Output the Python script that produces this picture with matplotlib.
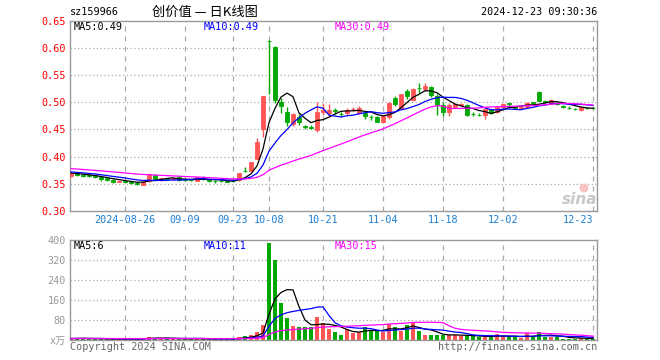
import numpy as np
import matplotlib
matplotlib.use("Agg")
import matplotlib.pyplot as plt
from matplotlib.patches import Ellipse

# ---------------- data ----------------
dates = ["08-13","08-14","08-15","08-16","08-19","08-20","08-21","08-22","08-23",
         "08-26","08-27","08-28","08-29","08-30",
         "09-02","09-03","09-04","09-05","09-06",
         "09-09","09-10","09-11","09-12","09-13",
         "09-18","09-19","09-20",
         "09-23","09-24","09-25","09-26","09-27","09-30",
         "10-08","10-09","10-10","10-11",
         "10-14","10-15","10-16","10-17","10-18",
         "10-21","10-22","10-23","10-24","10-25",
         "10-28","10-29","10-30","10-31","11-01",
         "11-04","11-05","11-06","11-07","11-08",
         "11-11","11-12","11-13","11-14","11-15",
         "11-18","11-19","11-20","11-21","11-22",
         "11-25","11-26","11-27","11-28","11-29",
         "12-02","12-03","12-04","12-05","12-06",
         "12-09","12-10","12-11","12-12","12-13",
         "12-16","12-17","12-18","12-19","12-20",
         "12-23"]

opens = [0.364,0.369,0.367,0.366,0.365,0.363,0.360,0.357,0.354,
         0.355,0.354,0.352,0.348,0.355,
         0.366,0.357,0.360,0.358,0.363,
         0.358,0.358,0.356,0.359,0.357,
         0.356,0.356,0.356,
         0.355,0.357,0.374,0.373,0.396,0.451,
         0.613,0.602,0.501,0.483,
         0.460,0.473,0.456,0.454,0.449,
         0.483,0.481,0.485,0.479,0.480,
         0.487,0.481,0.481,0.473,0.472,
         0.464,0.472,0.508,0.489,0.521,
         0.504,0.527,0.524,0.528,0.511,
         0.495,0.483,0.491,0.495,0.495,
         0.479,0.477,0.476,0.487,0.483,
         0.491,0.498,0.491,0.490,0.492,
         0.500,0.518,0.502,0.499,0.499,
         0.493,0.490,0.488,0.486,0.490,
         0.490]
highs = [0.371,0.370,0.369,0.368,0.366,0.364,0.361,0.358,0.357,
         0.356,0.355,0.353,0.355,0.369,
         0.367,0.361,0.361,0.361,0.364,
         0.359,0.359,0.363,0.364,0.358,
         0.357,0.357,0.357,
         0.356,0.370,0.381,0.391,0.434,0.511,
         0.614,0.604,0.507,0.492,
         0.480,0.478,0.458,0.458,0.501,
         0.498,0.497,0.490,0.483,0.489,
         0.491,0.493,0.484,0.477,0.474,
         0.477,0.500,0.511,0.516,0.524,
         0.526,0.535,0.535,0.529,0.516,
         0.500,0.498,0.499,0.499,0.496,
         0.483,0.480,0.489,0.488,0.494,
         0.498,0.498,0.493,0.494,0.501,
         0.501,0.520,0.504,0.506,0.500,
         0.495,0.493,0.490,0.492,0.491,
         0.491]
lows = [0.362,0.364,0.362,0.362,0.361,0.356,0.355,0.352,0.353,
        0.352,0.350,0.348,0.347,0.354,
        0.357,0.356,0.357,0.357,0.356,
        0.355,0.355,0.355,0.357,0.353,
        0.352,0.353,0.353,
        0.353,0.356,0.372,0.372,0.395,0.437,
        0.516,0.499,0.481,0.457,
        0.457,0.459,0.451,0.451,0.446,
        0.477,0.475,0.478,0.475,0.477,
        0.484,0.479,0.469,0.467,0.463,
        0.461,0.470,0.494,0.488,0.506,
        0.503,0.517,0.520,0.510,0.476,
        0.475,0.475,0.489,0.493,0.474,
        0.475,0.474,0.469,0.479,0.480,
        0.489,0.493,0.487,0.488,0.489,
        0.497,0.502,0.498,0.497,0.495,
        0.490,0.487,0.485,0.484,0.487,
        0.488]
closes = [0.369,0.366,0.365,0.364,0.363,0.359,0.357,0.354,0.356,
          0.354,0.351,0.350,0.354,0.368,
          0.358,0.360,0.359,0.360,0.357,
          0.357,0.357,0.362,0.358,0.356,
          0.355,0.355,0.354,
          0.355,0.369,0.3735,0.390,0.427,0.511,
          0.612,0.504,0.494,0.463,
          0.478,0.463,0.455,0.453,0.483,
          0.486,0.486,0.484,0.478,0.486,
          0.488,0.489,0.475,0.472,0.464,
          0.475,0.499,0.497,0.515,0.511,
          0.524,0.526,0.530,0.513,0.495,
          0.483,0.495,0.497,0.497,0.476,
          0.478,0.476,0.487,0.480,0.491,
          0.497,0.497,0.490,0.491,0.499,
          0.499,0.503,0.501,0.504,0.497,
          0.492,0.489,0.487,0.491,0.489,
          0.489]
# closes before the first drawn day (used only for the moving averages)
prior_closes = [0.390,0.389,0.388,0.387,0.386,0.385,0.385,0.384,0.382,0.382,
                0.380,0.379,0.378,0.377,0.376,0.376,0.375,0.374,0.373,0.373,
                0.375,0.374,0.374,0.373,0.374,0.371,0.370,0.370,0.369]

volumes = [5,9,8,4,4,5,4,5,3,
           4,4,4,8,13,
           8,6,4,5,7,
           5,4,5,6,4,
           5,4,5,
           5,11,16,20,33,60,
           389,320,149,89,
           56,53,53,53,93,
           69,45,33,20,43,
           29,33,53,36,36,
           33,64,53,36,60,
           67,35,20,20,20,
           22,20,20,16,16,
           16,13,13,13,24,
           13,13,13,7,27,
           13,32,13,13,13,
           6,6,6,9,6,
           3]
prior_volumes = [6,7,6,5,6,7,6,5,6,6,
                 7,6,5,6,6,7,6,5,6,6,
                 6,7,6,5,6,7,6,5,6]

price_ticks = [0.30,0.35,0.40,0.45,0.50,0.55,0.60,0.65]
vol_ticks = [0,80,160,240,320,400]
date_tick_labels = {"08-26":"2024-08-26","09-09":"09-09","09-23":"09-23","10-08":"10-08",
                    "10-21":"10-21","11-04":"11-04","11-18":"11-18","12-02":"12-02","12-23":"12-23"}

# ---------------- helpers ----------------
def ma(values, prior, n):
    full = np.array(list(prior) + list(values), dtype=float)
    out = np.convolve(full, np.ones(n) / n, mode="valid")
    return out[-len(values):]

o = np.array(opens); h = np.array(highs); l = np.array(lows); c = np.array(closes)
v = np.array(volumes, dtype=float)
x = np.arange(len(dates))
ma5 = ma(closes, prior_closes, 5); ma10 = ma(closes, prior_closes, 10); ma30 = ma(closes, prior_closes, 30)
vma5 = ma(volumes, prior_volumes, 5); vma10 = ma(volumes, prior_volumes, 10); vma30 = ma(volumes, prior_volumes, 30)

RED = "#ff5555"; GREEN = "#00a800"; GRID = "#aaaaaa"; SPINE = "#999999"
up = c > o
colors = np.where(up, RED, GREEN)

W, H = 660, 360
fig = plt.figure(figsize=(6.6, 3.6), dpi=100)
fig.patch.set_facecolor("white")

def fx(px): return px / W
def fy(py): return 1 - py / H

ax = fig.add_axes([fx(70), fy(211), fx(597) - fx(70), fy(20.7) - fy(211)])
axv = fig.add_axes([fx(70), fy(340), fx(597) - fx(70), fy(240) - fy(340)])

mono = ["DejaVu Sans Mono", "Noto Sans CJK SC"]
FS = 7.3
xlim = (-0.17, len(dates) - 1 + 0.67)
tick_idx = [dates.index(d) for d in date_tick_labels]

for a in (ax, axv):
    a.set_xlim(*xlim)
    for s in a.spines.values():
        s.set_color(SPINE); s.set_linewidth(1.0)
    a.tick_params(length=0, pad=3)
    for t in tick_idx:
        a.axvline(t, color=GRID, lw=0.9, ls=(0, (4, 4)), zorder=0)

# price panel
ax.set_ylim(0.30, 0.65)
ax.set_yticks(price_ticks)
ax.set_yticklabels([f"{t:.2f}" for t in price_ticks], fontsize=FS, family=mono, color="#ff0000")
for t in price_ticks[1:-1]:
    ax.axhline(t, color=GRID, lw=0.9, ls=(0, (1, 2)), zorder=0)
ax.set_xticks(tick_idx)
ax.set_xticklabels(list(date_tick_labels.values()), fontsize=FS, family=mono, color="#1a7fd4")
ax.get_xticklabels()[-1].set_ha("right")
ax.tick_params(axis="x", pad=3)

ax.vlines(x, l, h, colors=colors, lw=1.0, zorder=2)
body_b = np.minimum(o, c)
body_h = np.maximum(np.abs(c - o), 0.0005)
ax.bar(x, body_h, bottom=body_b, width=0.72, color=colors, edgecolor=colors, lw=0.6, zorder=3)
ax.plot(x, ma5, color="black", lw=0.9, zorder=4)
ax.plot(x, ma10, color="#0000ff", lw=0.9, zorder=4)
ax.plot(x, ma30, color="#ff00ff", lw=0.9, zorder=4)

# volume panel
axv.set_ylim(0, 400)
axv.set_yticks(vol_ticks)
axv.set_yticklabels(["x万"] + [str(t) for t in vol_ticks[1:]], fontsize=FS, family=mono, color=SPINE)
for t in vol_ticks[1:-1]:
    axv.axhline(t, color=GRID, lw=0.9, ls=(0, (1, 2)), zorder=0)
axv.set_xticks([])
axv.bar(x, v, width=0.8, color=colors, zorder=2)
axv.plot(x, vma5, color="black", lw=0.9, zorder=4)
axv.plot(x, vma10, color="#0000ff", lw=0.9, zorder=4)
axv.plot(x, vma30, color="#ff00ff", lw=0.9, zorder=4)

# texts
def ftext(px, py, s, **kw):
    kw.setdefault("fontsize", FS)
    kw.setdefault("family", mono)
    kw.setdefault("va", "center")
    fig.text(fx(px), fy(py), s, **kw)

ftext(70, 12, "sz159966", color="black")
ftext(205, 12, "创价值 — 日K线图", color="black", ha="center",
      family=["Noto Sans CJK SC", "DejaVu Sans"], fontsize=9.5)
ftext(597, 12, "2024-12-23 09:30:36", color="black", ha="right")

ftext(74, 26.5, f"MA5:{ma5[-1]:.2f}", color="black")
ftext(204, 26.5, f"MA10:{ma10[-1]:.2f}", color="#0000ff")
ftext(335, 26.5, f"MA30:{ma30[-1]:.2f}", color="#ff00ff")
ftext(74, 246, f"MA5:{vma5[-1]:.0f}", color="black")
ftext(204, 246, f"MA10:{vma10[-1]:.0f}", color="#0000ff")
ftext(335, 246, f"MA30:{vma30[-1]:.0f}", color="#ff00ff")

ftext(70, 346.5, "Copyright 2024 SINA.COM", color="#666666")
ftext(597, 346.5, "http://finance.sina.com.cn", color="#666666", ha="right")

# watermark
ftext(580, 200, "sina", color="#c8c8c8", ha="center", family=["DejaVu Sans"],
      fontsize=11, fontweight="bold", style="italic")
fig.add_artist(Ellipse((fx(584), fy(188)), fx(9), 9 / H, transform=fig.transFigure,
                       facecolor="#f6c4c4", edgecolor="none"))

fig.savefig("out.png", dpi=100, facecolor="white")
